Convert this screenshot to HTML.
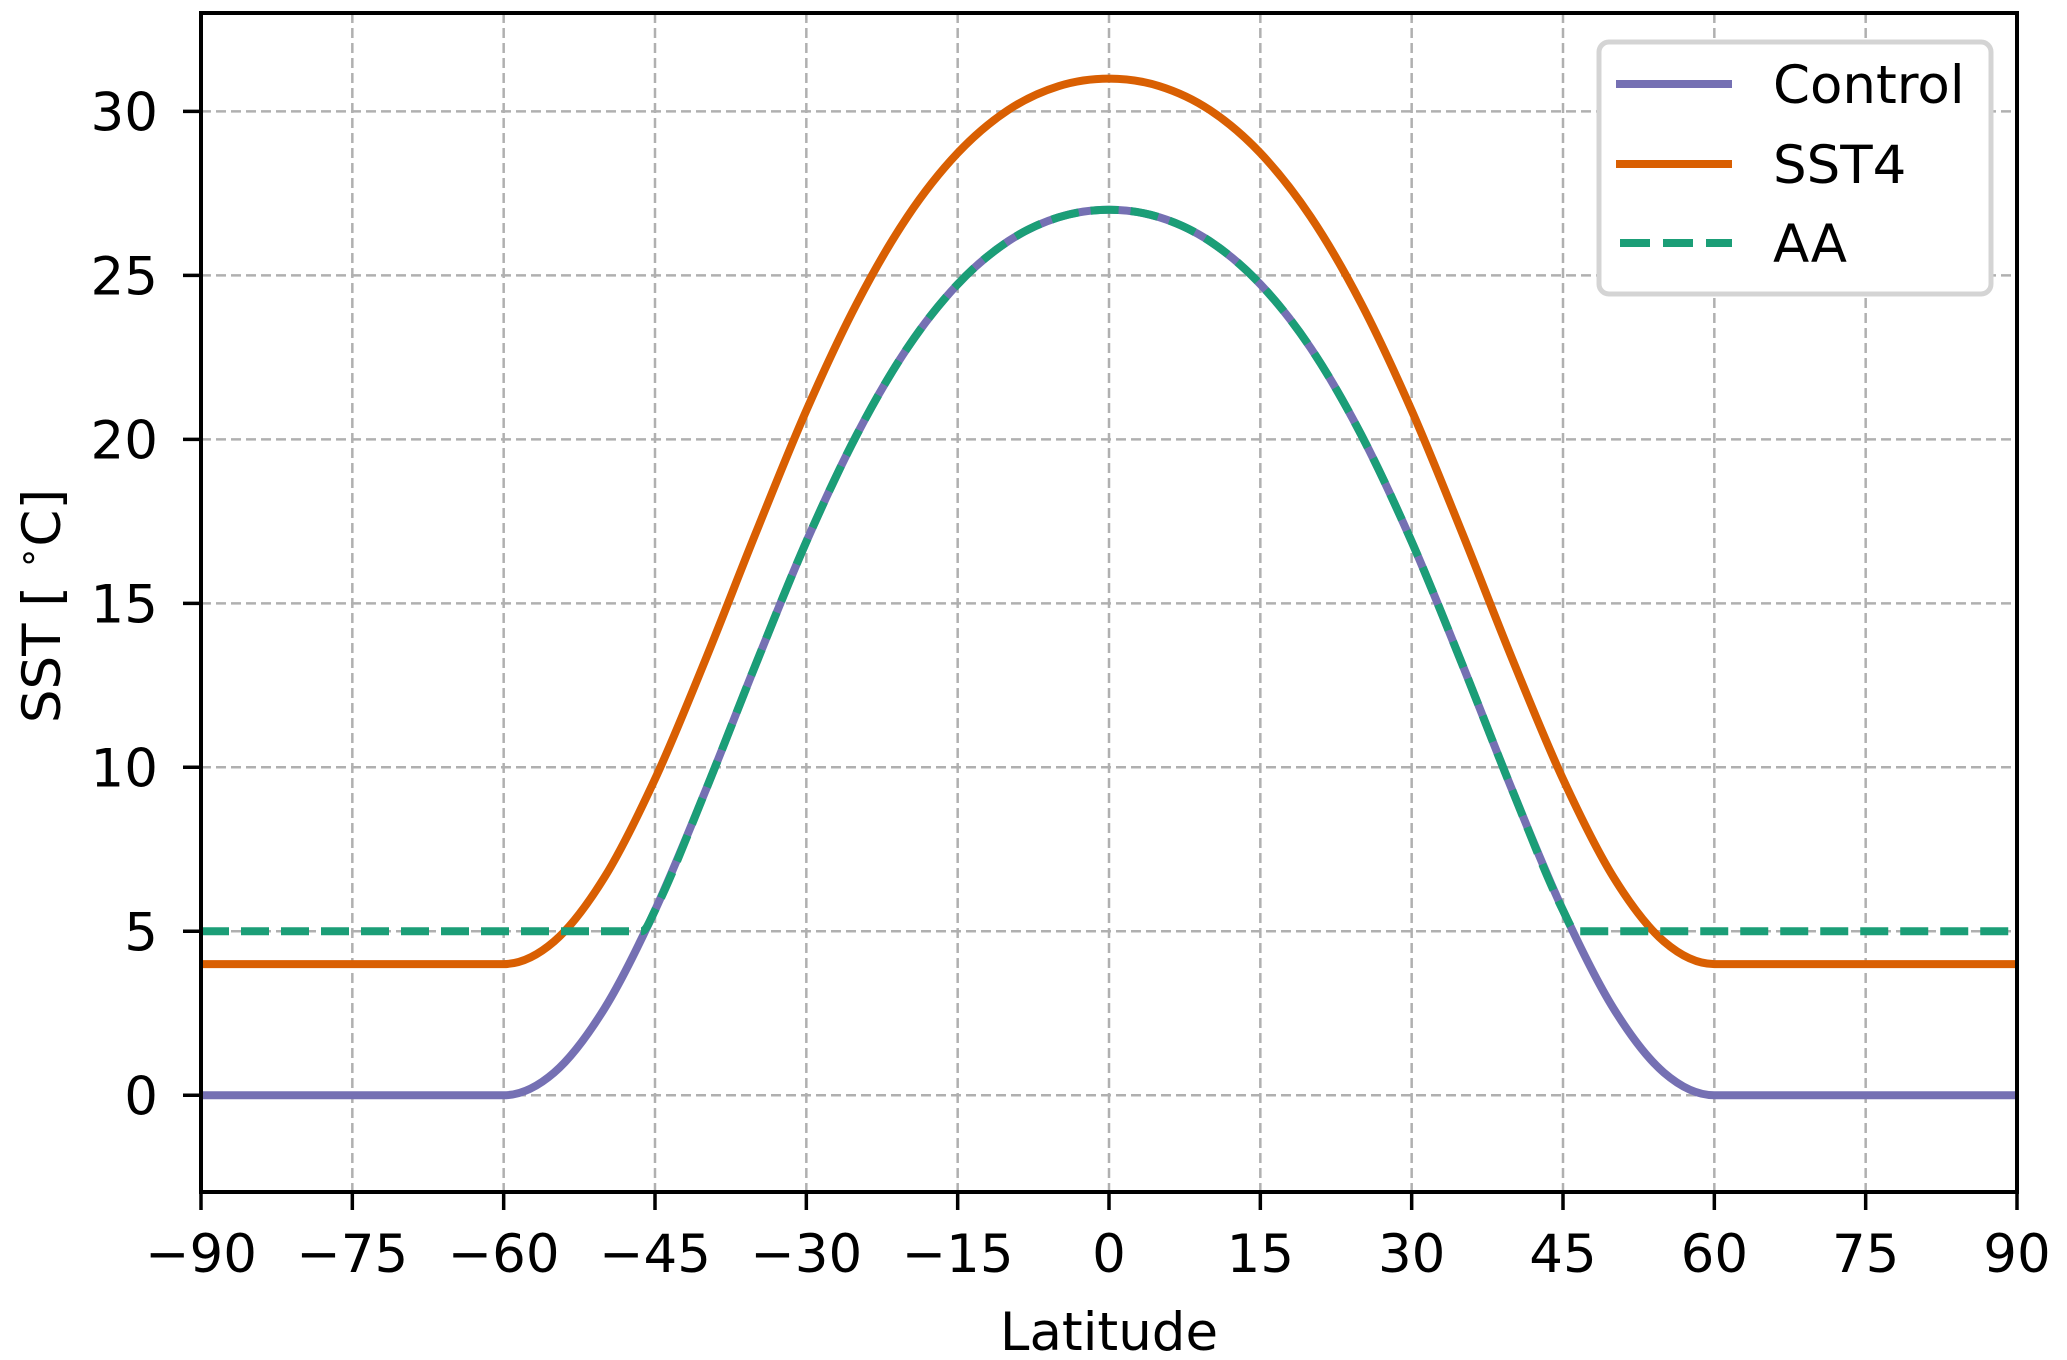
<!DOCTYPE html>
<html><head><meta charset="utf-8"><style>
html,body{margin:0;padding:0;background:#fff;}
svg{display:block;font-family:"DejaVu Sans","Liberation Sans",sans-serif;}
</style></head><body>
<svg id="chart" width="2067" height="1360" viewBox="0 0 2067 1360" xmlns="http://www.w3.org/2000/svg">
<g id="grid"></g>
<g id="series"></g>
<rect x="201" y="13" width="1816" height="1179" fill="none" stroke="#000" stroke-width="4"/>
<g id="ticks"></g>
<text x="1109" y="1350" font-size="53" text-anchor="middle">Latitude</text>
<text transform="translate(60,606) rotate(-90)" font-size="53" text-anchor="middle">SST [ <tspan baseline-shift="super" font-size="36">∘</tspan>C]</text>
<g>
<rect x="1599" y="42" width="392" height="252" rx="10" fill="#fff" stroke="#d4d4d4" stroke-width="5"/>
<g>
<line x1="1616" y1="84" x2="1732" y2="84" stroke="#7570b3" stroke-width="8"/>
<text x="1773" y="103" font-size="53">Control</text></g>
<g>
<line x1="1616" y1="164" x2="1732" y2="164" stroke="#d95f02" stroke-width="8"/>
<text x="1773" y="183" font-size="53">SST4</text></g>
<g>
<line x1="1620" y1="243" x2="1732" y2="243" stroke="#1b9e77" stroke-width="8" stroke-dasharray="30,13"/>
<text x="1773" y="262" font-size="53">AA</text></g>
</g>
</svg>
<script>
const lats = [-90,-85,-80,-75,-70,-65,-60,-55,-50,-45,-40,-35,-30,-25,-20,-15,-10,-5,0,5,10,15,20,25,30,35,40,45,50,55,60,65,70,75,80,85,90];
const controlVals = [0,0,0,0,0,0,0,0.69,2.65,5.64,9.28,13.15,16.88,20.14,22.78,24.73,26.04,26.77,27,26.77,26.04,24.73,22.78,20.14,16.88,13.15,9.28,5.64,2.65,0.69,0,0,0,0,0,0,0];
const sst4Vals = [4,4,4,4,4,4,4,4.69,6.65,9.64,13.28,17.15,20.88,24.14,26.78,28.73,30.04,30.77,31,30.77,30.04,28.73,26.78,24.14,20.88,17.15,13.28,9.64,6.65,4.69,4,4,4,4,4,4,4];
const aaLats = [-90,-80,-70,-60,-50,-46.3,-45,-40,-35,-30,-25,-20,-15,-10,-5,0,5,10,15,20,25,30,35,40,45,46.3,50,60,70,80,90];
const aaVals = [5,5,5,5,5,5,5.64,9.28,13.15,16.88,20.14,22.78,24.73,26.04,26.77,27,26.77,26.04,24.73,22.78,20.14,16.88,13.15,9.28,5.64,5,5,5,5,5,5];
const xTicks = [-90,-75,-60,-45,-30,-15,0,15,30,45,60,75,90];
const yTicks = [0,5,10,15,20,25,30];

const X0=201,X1=2017,Y0=13,Y1=1192,XMIN=-90,XMAX=90,YMIN=-2.95,YMAX=33;
const xs=v=>X0+(v-XMIN)/(XMAX-XMIN)*(X1-X0);
const ys=v=>Y1-(v-YMIN)/(YMAX-YMIN)*(Y1-Y0);
const NS='http://www.w3.org/2000/svg';
function mk(tag,attrs,parent){const e=document.createElementNS(NS,tag);for(const k in attrs)e.setAttribute(k,attrs[k]);parent.appendChild(e);return e;}
const grid=document.getElementById('grid'),ticks=document.getElementById('ticks'),series=document.getElementById('series');

xTicks.forEach(t=>{
  const x=xs(t);
  const g=mk('line',{x1:x,y1:Y0,x2:x,y2:Y1,stroke:'#b0b0b0','stroke-width':2.5,'stroke-dasharray':'10,5'},grid);
  
  
  const tk=mk('line',{x1:x,y1:Y1,x2:x,y2:Y1+18,stroke:'#000','stroke-width':3.5},ticks);
  
  
  const lb=mk('text',{x:x,y:1272,'font-size':53,'text-anchor':'middle'},ticks);
  lb.textContent=(t<0?'\u2212'+(-t):String(t));
  
  
});
yTicks.forEach(t=>{
  const y=ys(t);
  const g=mk('line',{x1:X0,y1:y,x2:X1,y2:y,stroke:'#b0b0b0','stroke-width':2.5,'stroke-dasharray':'10,5'},grid);
  
  
  const tk=mk('line',{x1:X0-18,y1:y,x2:X0,y2:y,stroke:'#000','stroke-width':3.5},ticks);
  
  
  const lb=mk('text',{x:158,y:y+19,'font-size':53,'text-anchor':'end'},ticks);
  lb.textContent=String(t);
  
  
});

function monoPath(xv,yv){
  const n=xv.length,px=xv.map(xs),py=yv.map(ys);
  const d=[],m=new Array(n);
  for(let i=0;i<n-1;i++)d.push((py[i+1]-py[i])/(px[i+1]-px[i]));
  m[0]=d[0];m[n-1]=d[n-2];
  for(let i=1;i<n-1;i++){m[i]=(d[i-1]*d[i]<=0)?0:(d[i-1]+d[i])/2;}
  for(let i=0;i<n-1;i++){
    if(d[i]===0){m[i]=0;m[i+1]=0;continue;}
    const a=m[i]/d[i],b=m[i+1]/d[i],s=a*a+b*b;
    if(s>9){const t=3/Math.sqrt(s);m[i]=t*a*d[i];m[i+1]=t*b*d[i];}
  }
  let p='M'+px[0]+','+py[0];
  for(let i=0;i<n-1;i++){
    const h=(px[i+1]-px[i])/3;
    p+=' C'+(px[i]+h)+','+(py[i]+m[i]*h)+' '+(px[i+1]-h)+','+(py[i+1]-m[i+1]*h)+' '+px[i+1]+','+py[i+1];
  }
  return p;
}
const c=mk('path',{d:monoPath(lats,controlVals),fill:'none',stroke:'#7570b3','stroke-width':8,'stroke-linejoin':'round'},series);


const s4=mk('path',{d:monoPath(lats,sst4Vals),fill:'none',stroke:'#d95f02','stroke-width':8,'stroke-linejoin':'round'},series);


const aa=mk('path',{d:monoPath(aaLats,aaVals),fill:'none',stroke:'#1b9e77','stroke-width':8,'stroke-dasharray':'28,12'},series);


</script>
</body></html>
